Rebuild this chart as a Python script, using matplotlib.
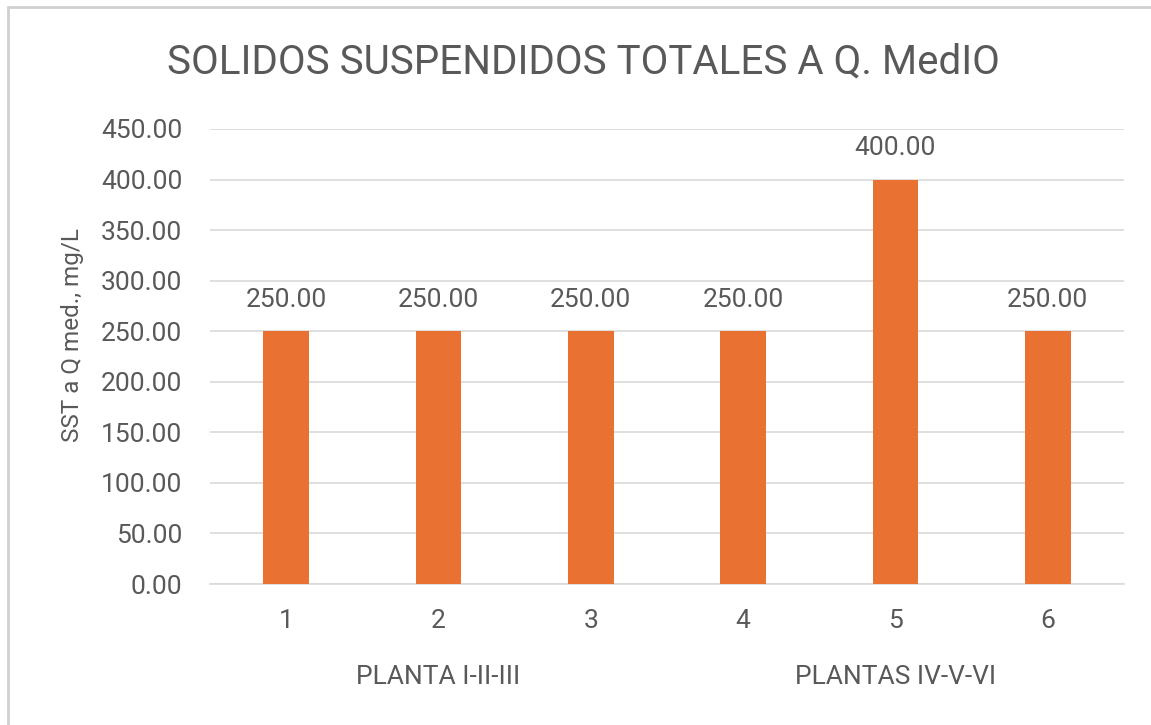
import matplotlib
matplotlib.use("Agg")
import matplotlib.pyplot as plt
from matplotlib.patches import Rectangle

categories = ["1", "2", "3", "4", "5", "6"]
values = [250.00, 250.00, 250.00, 250.00, 400.00, 250.00]
groups = ["PLANTA I-II-III", "PLANTAS IV-V-VI"]
group_centers = [1, 4]  # index of category under which group label is centered
yticks = [0, 50, 100, 150, 200, 250, 300, 350, 400, 450]

title = "SOLIDOS SUSPENDIDOS TOTALES A Q. MedIO"
ylabel = "SST a Q med., mg/L"

plt.rcParams['font.family'] = ['Roboto', 'DejaVu Sans']
TXT = "#595959"
BAR = "#E97132"
GRID = "#D9D9D9"

W, H = 1151, 725
fig = plt.figure(figsize=(W / 100, H / 100), dpi=100)
fig.patch.set_facecolor("white")

# outer chart border
fig.add_artist(Rectangle((8 / W, -0.05), 1.1, (H - 7) / H + 0.05, transform=fig.transFigure,
                         fill=False, edgecolor="#D0D0D0", linewidth=2.0))

ax = fig.add_axes([210 / W, 1 - 584 / H, (1124 - 210) / W, (584 - 129) / H])
x = list(range(len(categories)))
bars = ax.bar(x, values, width=0.30, color=BAR, zorder=3)
ax.set_xlim(-0.5, len(categories) - 0.5)
ax.set_ylim(0, 450)
ax.set_yticks(yticks)
ax.set_yticklabels([f"{v:.2f}" for v in yticks])
ax.set_xticks(x)
ax.set_xticklabels(categories)
ax.tick_params(axis="both", length=0, colors=TXT, labelsize=19)
ax.tick_params(axis="y", pad=20)
ax.tick_params(axis="x", pad=18)
ax.grid(axis="y", color=GRID, linewidth=1.2, zorder=0)
for s in ["top", "right", "left"]:
    ax.spines[s].set_visible(False)
ax.spines["bottom"].set_color(GRID)
ax.spines["bottom"].set_linewidth(1.2)

for xi, v in zip(x, values):
    ax.annotate(f"{v:.2f}", (xi, v), xytext=(0, 14), textcoords="offset points",
                ha="center", va="bottom", fontsize=19, color=TXT)

for g, c in zip(groups, group_centers):
    ax.annotate(g, (c, 0), xycoords=("data", "axes fraction"), xytext=(0, -93),
                textcoords="offset pixels", ha="center", va="center", fontsize=19, color=TXT)

fig.text(583 / W, 1 - 62 / H, title, ha="center", va="center", fontsize=29, color=TXT)
fig.text(73 / W, 1 - 335 / H, ylabel, ha="center", va="center", rotation=90, fontsize=17.5, color=TXT)

fig.savefig("out.png", dpi=100)
